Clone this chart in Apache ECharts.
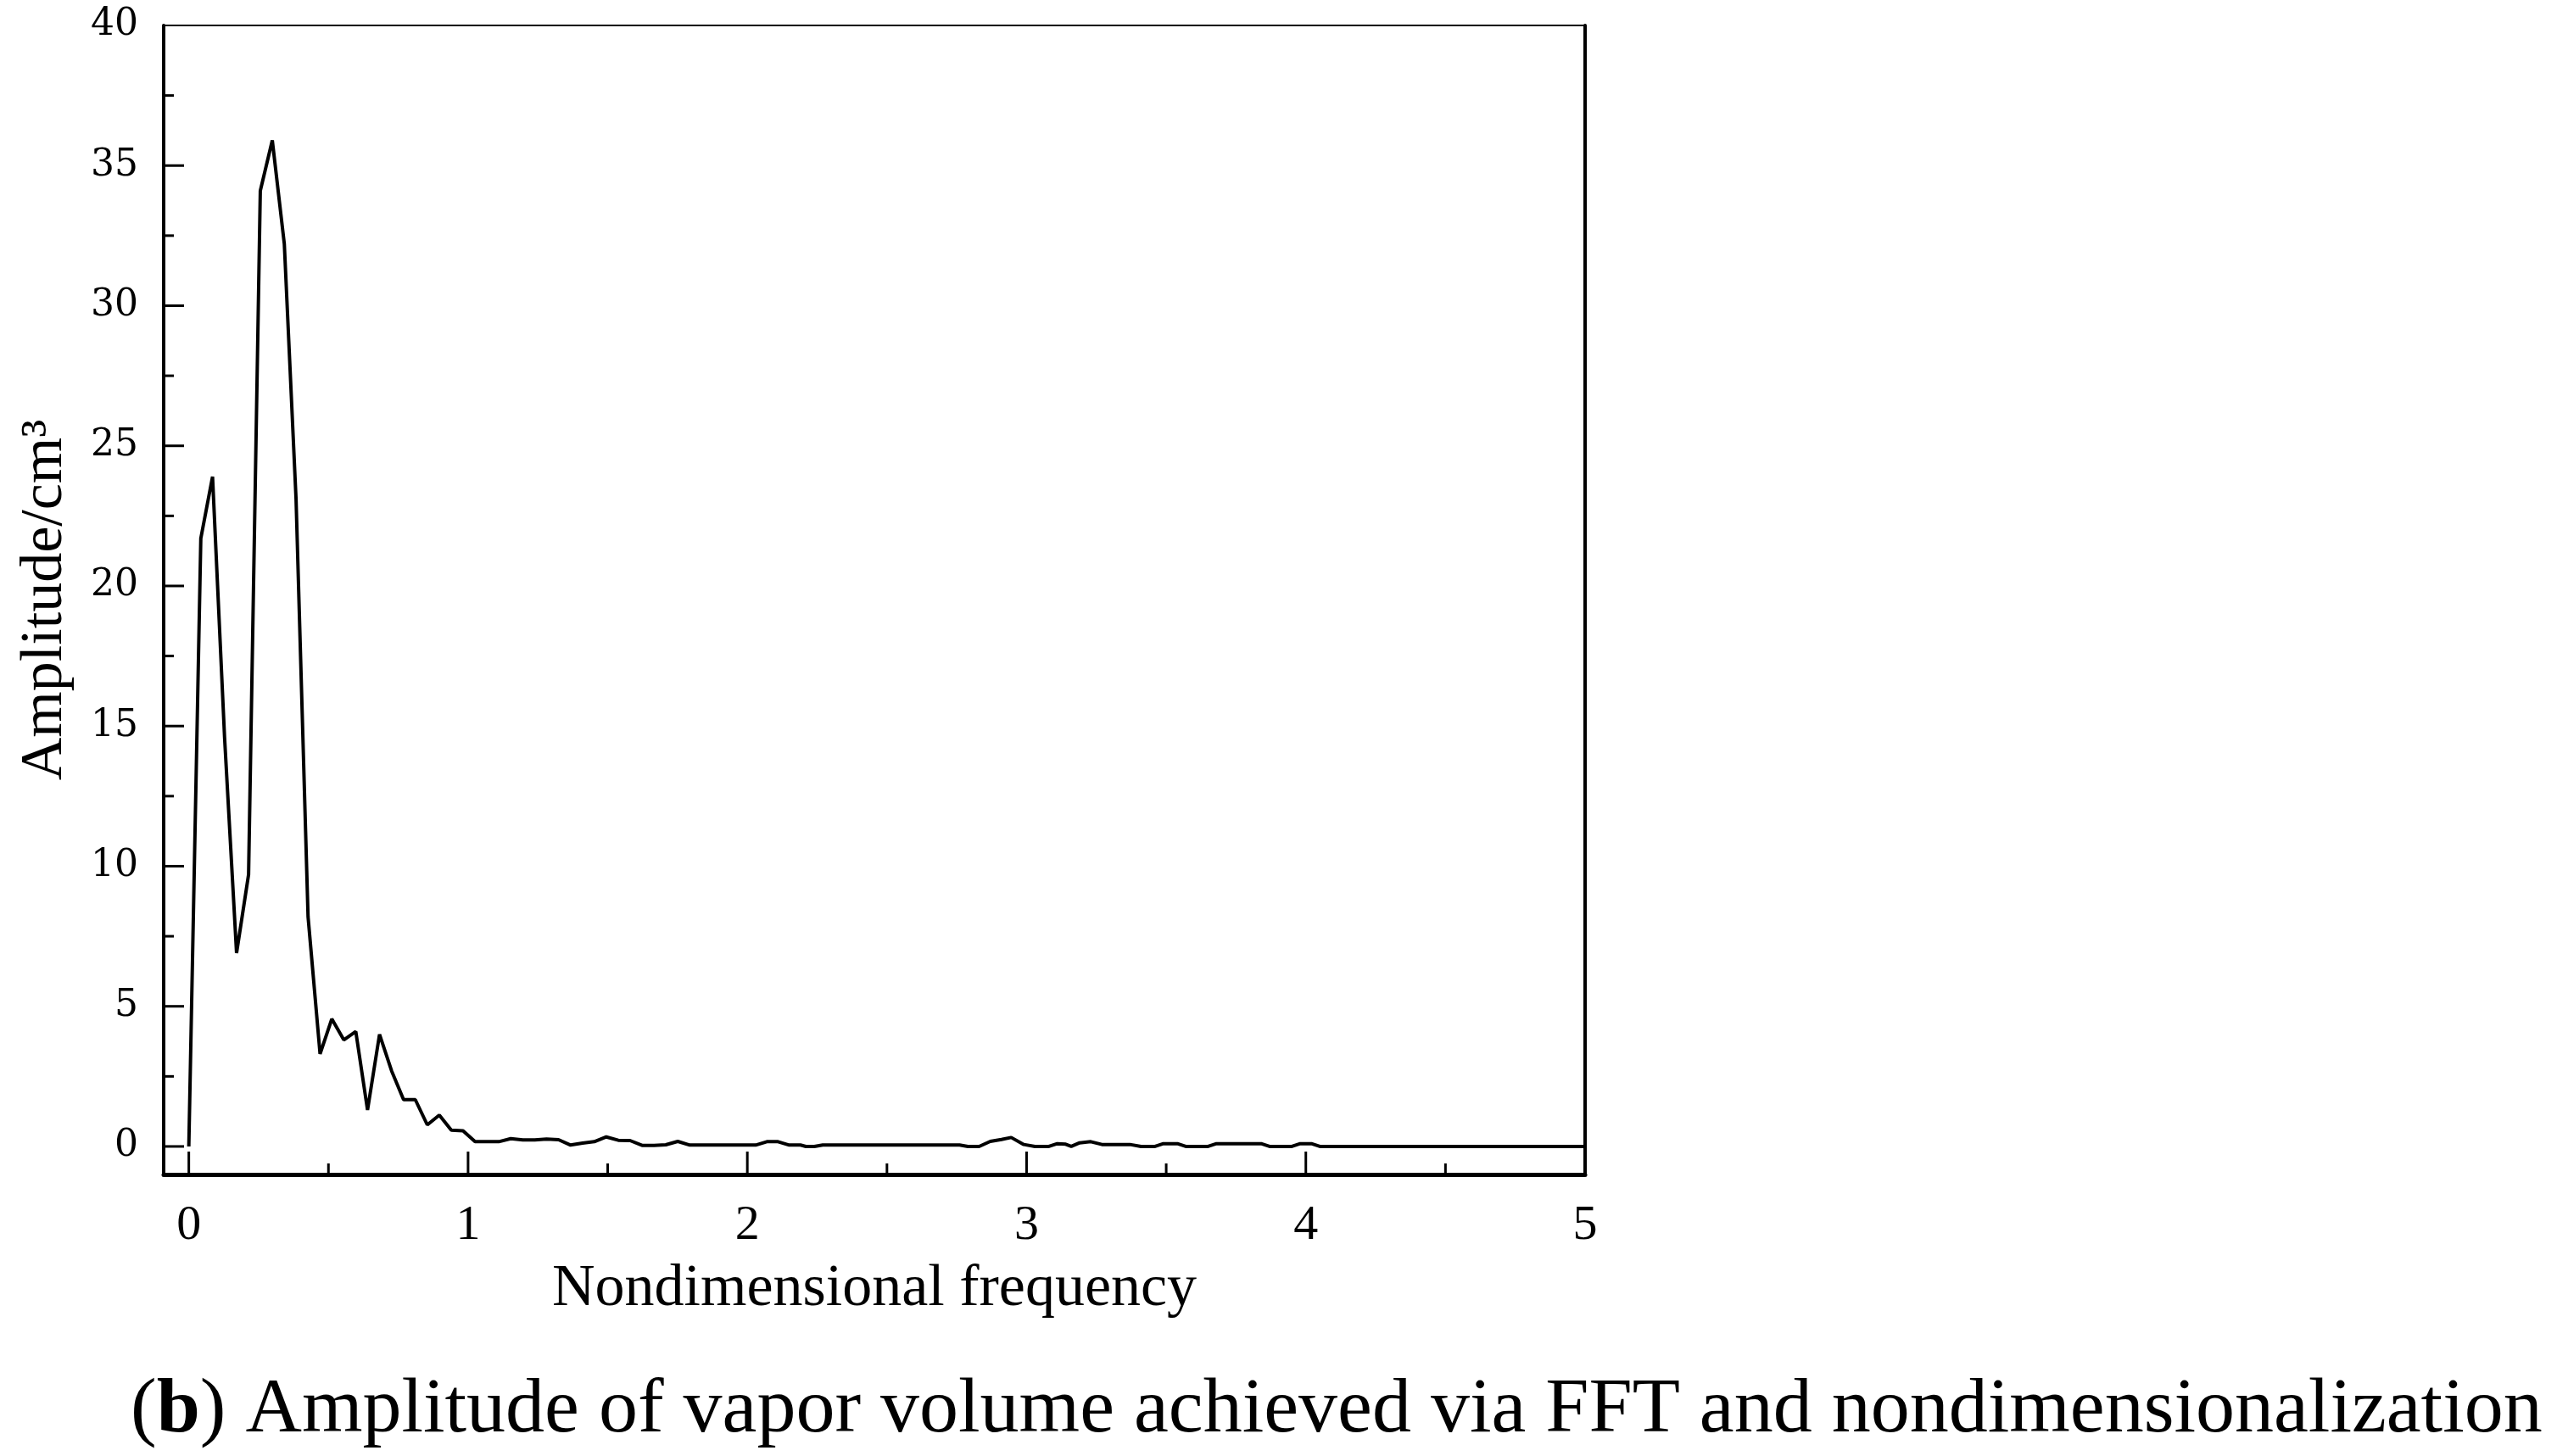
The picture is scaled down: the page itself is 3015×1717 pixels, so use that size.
<!DOCTYPE html>
<html>
<head>
    <meta charset="utf-8">
    <title>FFT amplitude</title>
    <script src="https://cdn.jsdelivr.net/npm/echarts@6/dist/echarts.min.js"></script>
</head>
<body style="margin:0;background:#fff;">
    <div id="main" style="width:3015px;height:1717px;"></div>
    <script type="text/javascript">
        // values
        var freq = [0, 0.043, 0.085, 0.128, 0.171, 0.214, 0.256, 0.299, 0.342, 0.384, 0.427, 0.470,
            0.512, 0.555, 0.598, 0.640, 0.683, 0.726, 0.769, 0.811, 0.854, 0.897, 0.940, 0.982,
            1.025, 1.068, 1.110, 1.153, 1.196, 1.239, 1.281, 1.324, 1.367, 1.410, 1.452, 1.495,
            1.538, 1.580, 1.623, 1.666, 1.708, 1.751, 1.794, 2.03, 2.07, 2.11, 2.15, 2.19, 2.21,
            2.24, 2.27, 2.76, 2.79, 2.83, 2.87, 2.91, 2.945, 2.99, 3.03, 3.08, 3.11, 3.14, 3.16,
            3.19, 3.23, 3.27, 3.37, 3.41, 3.46, 3.49, 3.54, 3.57, 3.65, 3.68, 3.84, 3.87, 3.95,
            3.98, 4.02, 4.05, 5.0];
        var amp = [0, 21.7, 23.9, 14.6, 6.9, 9.7, 34.1, 35.9, 32.2, 23.1, 8.2, 3.3,
            4.55, 3.8, 4.1, 1.3, 4.0, 2.7, 1.67, 1.67, 0.77, 1.12, 0.58, 0.56,
            0.17, 0.17, 0.17, 0.28, 0.23, 0.23, 0.26, 0.24, 0.05, 0.12, 0.17, 0.34,
            0.22, 0.21, 0.04, 0.04, 0.06, 0.18, 0.05, 0.05, 0.17, 0.17, 0.05, 0.05, 0,
            0, 0.05, 0.05, 0, 0, 0.18, 0.25, 0.32, 0.07, 0, 0, 0.1, 0.08, 0,
            0.13, 0.17, 0.07, 0.07, 0, 0, 0.1, 0.1, 0, 0, 0.1, 0.1, 0, 0,
            0.1, 0.1, 0, 0];

        var xLabels = [0, 1, 2, 3, 4, 5];
        var xMajor = [0, 1, 2, 3, 4];
        var xMinor = [0.5, 1.5, 2.5, 3.5, 4.5];
        var yLabels = [0, 5, 10, 15, 20, 25, 30, 35, 40];
        var yMajor = [0, 5, 10, 15, 20, 25, 30, 35];
        var yMinor = [2.5, 7.5, 12.5, 17.5, 22.5, 27.5, 32.5, 37.5];

        var points = freq.map(function (f, i) { return [f, amp[i]]; });

        var myChart = echarts.init(document.getElementById("main"));
        var xRange = { min: -0.09, max: 5 };
        var yRange = { min: -1, max: 40 };

        // all inward tick marks in one custom series: [x, y, onXAxis, isMajor]
        var tickData = [];
        xMajor.forEach(function (v) { tickData.push([v, yRange.min, 1, 1]); });
        xMinor.forEach(function (v) { tickData.push([v, yRange.min, 1, 0]); });
        yMajor.forEach(function (v) { tickData.push([xRange.min, v, 0, 1]); });
        yMinor.forEach(function (v) { tickData.push([xRange.min, v, 0, 0]); });
        var tickLen = { x: [13, 27], y: [12, 24] };

        var option = {
            animation: false,
            backgroundColor: '#fff',
            grid: { left: 193, right: 1146, top: 30, bottom: 332 },
            xAxis: [{
                type: 'value', position: 'bottom', min: xRange.min, max: xRange.max,
                name: 'Nondimensional frequency', nameLocation: 'middle', nameGap: 101,
                nameTextStyle: { fontFamily: 'Liberation Serif', fontSize: 70, color: '#000' },
                axisLine: { onZero: false, lineStyle: { color: '#000', width: 5 } },
                axisTick: { show: false },
                axisLabel: { customValues: xLabels, margin: 32, fontFamily: 'Liberation Serif', fontSize: 58, color: '#000' },
                splitLine: { show: false }
            }, {
                type: 'value', position: 'top', min: xRange.min, max: xRange.max,
                axisLine: { onZero: false, lineStyle: { color: '#000', width: 2 } },
                axisTick: { show: false }, axisLabel: { show: false }, splitLine: { show: false }
            }],
            yAxis: [{
                type: 'value', position: 'left', min: yRange.min, max: yRange.max,
                name: 'Amplitude/cm\u00b3', nameLocation: 'middle', nameGap: 104,
                nameTextStyle: { fontFamily: 'Liberation Serif', fontSize: 70, color: '#000' },
                axisLine: { onZero: false, lineStyle: { color: '#000', width: 4 } },
                axisTick: { show: false },
                axisLabel: { customValues: yLabels, margin: 30, fontFamily: 'DejaVu Serif', fontSize: 44, color: '#000' },
                splitLine: { show: false }
            }, {
                type: 'value', position: 'right', min: yRange.min, max: yRange.max,
                axisLine: { onZero: false, lineStyle: { color: '#000', width: 4 } },
                axisTick: { show: false }, axisLabel: { show: false }, splitLine: { show: false }
            }],
            graphic: [{
                type: 'text', x: 154, y: 1664,
                style: {
                    text: '({b|b}) Amplitude of vapor volume achieved via FFT and nondimensionalization',
                    fontFamily: 'Liberation Serif', fontSize: 92, fill: '#000',
                    verticalAlign: 'middle', align: 'left',
                    rich: { b: { fontFamily: 'Liberation Serif', fontSize: 92, fontWeight: 'bold', fill: '#000' } }
                }
            }],
            series: [{
                type: 'line', data: points, xAxisIndex: 0, yAxisIndex: 0,
                showSymbol: false, smooth: false,
                lineStyle: { color: '#000', width: 4 }
            }, {
                type: 'custom', silent: true, clip: false, z: 5,
                data: tickData,
                renderItem: function (params, api) {
                    var p = api.coord([api.value(0), api.value(1)]);
                    var onX = api.value(2) === 1;
                    var major = api.value(3) === 1 ? 1 : 0;
                    var len = onX ? tickLen.x[major] : tickLen.y[major];
                    return {
                        type: 'line',
                        shape: onX ? { x1: p[0], y1: p[1], x2: p[0], y2: p[1] - len }
                                   : { x1: p[0], y1: p[1], x2: p[0] + len, y2: p[1] },
                        style: { stroke: '#000', lineWidth: 3 }
                    };
                }
            }]
        };

        myChart.setOption(option);
    </script>
</body>
</html>
